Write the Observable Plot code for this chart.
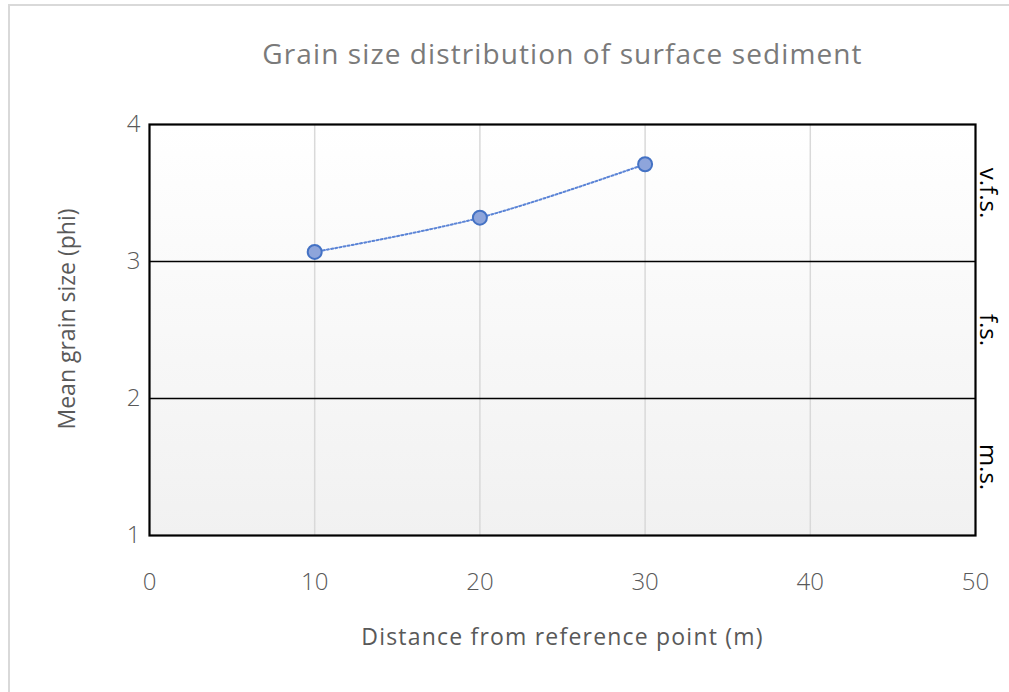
<!DOCTYPE html>
<html>
<head>
<meta charset="utf-8">
<script src="https://cdn.jsdelivr.net/npm/d3@7"></script>
<script src="https://cdn.jsdelivr.net/npm/@observablehq/plot@0.6"></script>
<style>
  html, body { margin: 0; padding: 0; background: #fff; overflow: hidden; }
  #wrap { position: relative; width: 1009px; height: 692px; }
  #border { position: absolute; left: 8px; top: 4px; width: 1100px; height: 800px; border: 2px solid #d9d9d9; box-sizing: border-box; }
  #chart { position: absolute; left: 0; top: 0; }
</style>
</head>
<body>
<div id="wrap"><div id="border"></div><div id="chart"></div></div>
<script>
const distances = [10, 20, 30];
const meanPhi = [3.07, 3.32, 3.71];
const xTicks = [0, 10, 20, 30, 40, 50];
const yTicks = [1, 2, 3, 4];
const classBounds = [2, 3];
const classLabels = ["m.s.", "f.s.", "v.f.s."];
const classCenters = [1.5, 2.5, 3.5];
const title = "Grain size distribution of surface sediment";
const xLabel = "Distance from reference point (m)";
const yLabel = "Mean grain size (phi)";

const data = distances.map((d, i) => ({x: d, y: meanPhi[i]}));
const bands = classLabels.map((l, i) => ({label: l, y: classCenters[i]}));

const plot = Plot.plot({
  width: 1009,
  height: 692,
  marginTop: 124,
  marginBottom: 157,
  marginLeft: 149,
  marginRight: 34,
  style: {fontFamily: "'Open Sans', sans-serif", fontSize: "20px", background: "transparent"},
  x: {domain: [0, 50]},
  y: {domain: [1, 4]},
  marks: [
    Plot.frame({fill: "url(#bg)"}),
    Plot.ruleX(xTicks.filter(t => t > 0 && t < 50), {stroke: "#d9d9d9", strokeWidth: 1.5}),
    Plot.ruleY(classBounds, {stroke: "#000", strokeWidth: 1.6}),
    Plot.frame({stroke: "#000", strokeWidth: 2.2}),
    Plot.line(data, {x: "x", y: "y", curve: "catmull-rom", stroke: "#5b84d6", strokeWidth: 2, strokeDasharray: "2,2.2"}),
    Plot.dot(data, {x: "x", y: "y", r: 7, fill: "#8ea5db", stroke: "#4472c4", strokeWidth: 2}),
    Plot.axisX(xTicks, {tickSize: 0, tickPadding: 37, fontSize: 24, fontWeight: 300, fill: "#595959", tickFormat: d => String(d), label: null}),
    Plot.axisY(yTicks, {tickSize: 0, tickPadding: 9, fontSize: 24, fontWeight: 300, fill: "#595959", tickFormat: d => String(d), label: null}),
    Plot.text(bands, {y: "y", text: "label", frameAnchor: "right", rotate: 90, dx: 12, fill: "#000", fontSize: 24, textAnchor: "middle", lineAnchor: "middle"}),
    Plot.text([title], {text: d => d, frameAnchor: "top", dy: -69, fill: "#7a7a7a", fontSize: 28, textAnchor: "middle", lineAnchor: "middle"}),
    Plot.text([xLabel], {text: d => d, frameAnchor: "bottom", dy: 102, fill: "#595959", fontSize: 23, textAnchor: "middle", lineAnchor: "middle"}),
    Plot.text([yLabel], {text: d => d, frameAnchor: "left", dx: -82, dy: -11, rotate: -90, fill: "#595959", fontSize: 23, textAnchor: "middle", lineAnchor: "middle"})
  ]
});

const svg = d3.select(plot);
const defs = svg.insert("defs", ":first-child");
const grad = defs.append("linearGradient").attr("id", "bg").attr("x1", 0).attr("y1", 0).attr("x2", 0).attr("y2", 1);
grad.append("stop").attr("offset", "0%").attr("stop-color", "#ffffff");
grad.append("stop").attr("offset", "100%").attr("stop-color", "#f1f1f1");
svg.selectAll("text").each(function () {
  const t = this.textContent;
  if (t === title) d3.select(this).attr("letter-spacing", "1.1px");
  if (t === xLabel) d3.select(this).attr("letter-spacing", "1.2px");
});

document.getElementById("chart").appendChild(plot);
</script>
</body>
</html>
